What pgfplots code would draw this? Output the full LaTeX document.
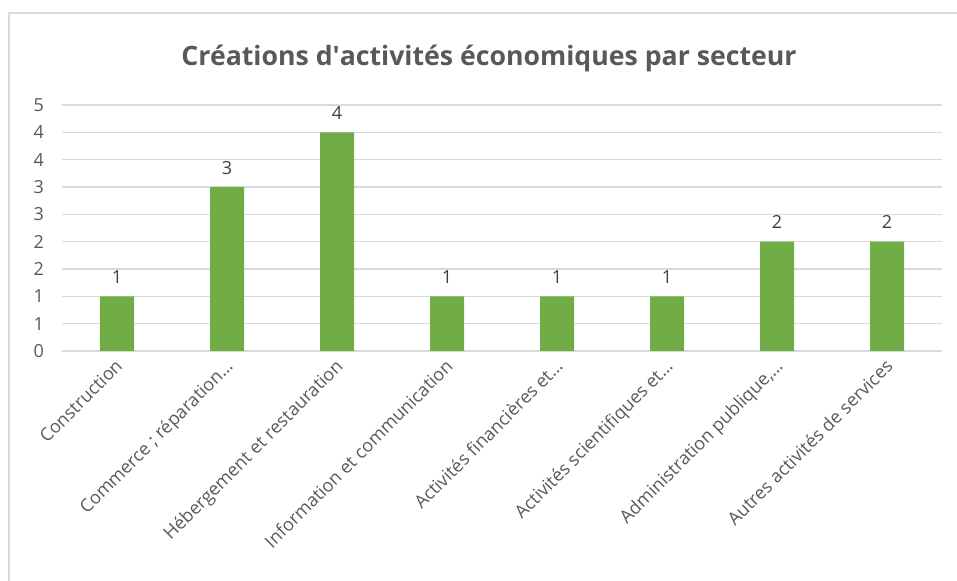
\documentclass[border=0pt]{standalone}
\usepackage{fontspec}
\setmainfont{Open Sans}
\usepackage{pgfplots}
\pgfplotsset{compat=1.18}
\definecolor{bargreen}{HTML}{70AD47}
\definecolor{txtgray}{HTML}{595959}
\definecolor{lblgray}{HTML}{404040}
\definecolor{gridgray}{HTML}{D9D9D9}
\begin{document}
\begin{tikzpicture}[x=0.75pt,y=0.75pt]
% picture frame in pixel units, axis box origin at (0,0)
\path[use as bounding box] (-62,-230) rectangle (895,351);
\draw[gridgray, line width=1.5pt] (-53,-230) -- (-53,338) -- (895,338);
\node[txtgray, font=\fontsize{20}{24}\selectfont\bfseries] at (427,293) {Créations d\textquotesingle activités économiques par secteur};
\begin{axis}[
    scale only axis,
    width=660pt, height=184.5pt,
    xmin=-0.5, xmax=7.5,
    ymin=0, ymax=4.5,
    ybar, bar width=25.5pt, bar shift=0pt,
    axis line style={draw=none},
    axis x line*=bottom,
    x axis line style={draw=gridgray, line width=0.8pt},
    tick style={draw=none},
    ymajorgrids, grid style={gridgray, line width=0.8pt},
    ytick={0,0.5,1,1.5,2,2.5,3,3.5,4,4.5},
    yticklabels={0,1,1,2,2,3,3,4,4,5},
    yticklabel style={anchor=east, xshift=-10pt, text=txtgray, font=\fontsize{13.5}{15}\selectfont},
    xtick={0,1,2,3,4,5,6,7},
    xticklabels={Construction, Commerce ; réparation…, Hébergement et restauration, Information et communication, Activités financières et…, Activités scientifiques et…, {Administration publique,…}, Autres activités de services},
    xticklabel style={rotate=45, anchor=north east, inner sep=1pt, xshift=-1pt, yshift=2pt, text=txtgray, font=\fontsize{13.5}{15}\selectfont},
    /pgf/number format/assume math mode=true,
    nodes near coords,
    nodes near coords style={text=lblgray, font=\fontsize{13.5}{15}\selectfont, yshift=6pt},
    clip=false,
]
\addplot[fill=bargreen, draw=none] coordinates {(0,1) (1,3) (2,4) (3,1) (4,1) (5,1) (6,2) (7,2)};
\end{axis}
\end{tikzpicture}
\end{document}
